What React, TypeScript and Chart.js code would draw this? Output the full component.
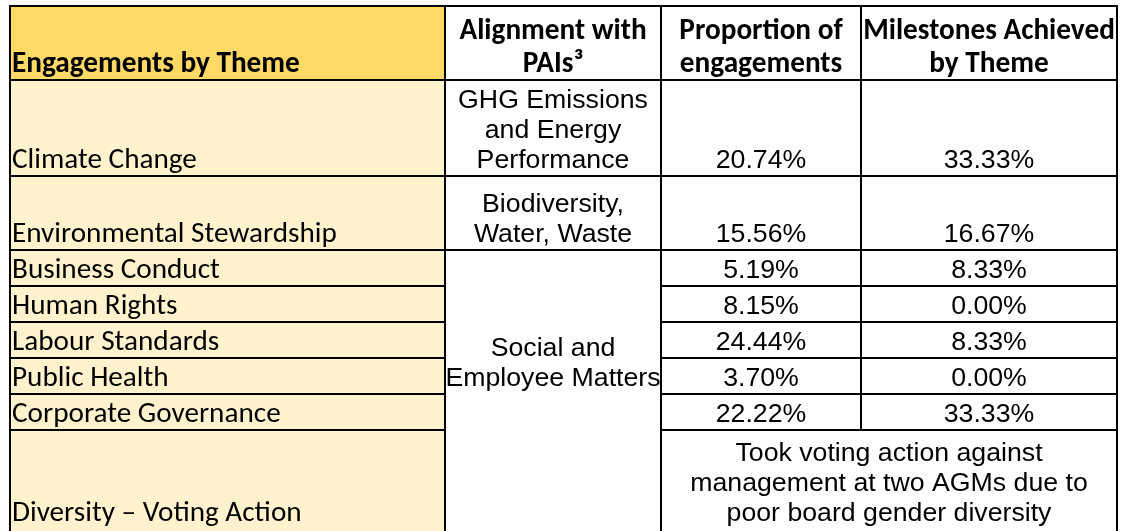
import React, { useEffect, useRef } from "react";
import { Chart, registerables } from "chart.js";

Chart.register(...registerables);

// ---------- data ----------
const headerTheme = "Engagements by Theme";
const headerAlignment = ["Alignment with", "PAIs³"];
const headerProportion = ["Proportion of", "engagements"];
const headerMilestones = ["Milestones Achieved", "by Theme"];

const themes = [
  "Climate Change",
  "Environmental Stewardship",
  "Business Conduct",
  "Human Rights",
  "Labour Standards",
  "Public Health",
  "Corporate Governance",
  "Diversity – Voting Action",
];

const alignClimate = ["GHG Emissions", "and Energy", "Performance"];
const alignEnvironment = ["Biodiversity,", "Water, Waste"];
const alignSocial = ["Social and", "Employee Matters"];

const proportions = [20.74, 15.56, 5.19, 8.15, 24.44, 3.7, 22.22];
const milestones = [33.33, 16.67, 8.33, 0.0, 8.33, 0.0, 33.33];

const votingNote = [
  "Took voting action against",
  "management at two AGMs due to",
  "poor board gender diversity",
];

// ---------- layout / style ----------
const W = 1133;
const H = 531;
const COLS = [10, 445, 661, 861, 1117];
const ROWS = [6, 80, 176, 250, 286, 322, 358, 394, 430, 529];
const GOLD = "#FFD966";
const CREAM = "#FFF2CC";
const CAL = "Calibri, Carlito, Lato, sans-serif";
const ARN = "Arial, 'Liberation Sans', sans-serif";
const ARN_SIZE = 26.7;

function fitSize(ctx: CanvasRenderingContext2D, weight: string, fam: string, text: string, target: number) {
  ctx.font = `${weight} 100px ${fam}`;
  return (100 * target) / ctx.measureText(text).width;
}

function drawTable(chart: any) {
  const ctx: CanvasRenderingContext2D = chart.ctx;
  const xs = chart.scales.x;
  const ys = chart.scales.y;
  const X = (v: number) => xs.getPixelForValue(v);
  const Y = (v: number) => ys.getPixelForValue(v);

  const calReg = fitSize(ctx, "400", CAL, "Climate Change", 185);
  const calBold = fitSize(ctx, "700", CAL, "Engagements by Theme", 288);
  const arnLH = 30;
  const hdrLH = 33;
  const pad = 8.5;

  ctx.save();
  ctx.fillStyle = "#ffffff";
  ctx.fillRect(0, 0, W, H);

  // backgrounds
  ctx.fillStyle = GOLD;
  ctx.fillRect(X(COLS[0]), Y(ROWS[0]), X(COLS[1]) - X(COLS[0]), Y(ROWS[1]) - Y(ROWS[0]));
  ctx.fillStyle = CREAM;
  ctx.fillRect(X(COLS[0]), Y(ROWS[1]), X(COLS[1]) - X(COLS[0]), Y(H) - Y(ROWS[1]) + 2);

  const txt = (s: string, x: number, y: number, font: string, align: CanvasTextAlign) => {
    ctx.save();
    ctx.font = font;
    ctx.fillStyle = "#000";
    ctx.textAlign = align;
    ctx.textBaseline = "alphabetic";
    ctx.fillText(s, x, y);
    ctx.restore();
  };
  const cx = (c: number) => (X(COLS[c]) + X(COLS[c + 1])) / 2;
  const base = (r: number) => Y(ROWS[r + 1]) - pad;

  // header
  const fb = `700 ${calBold}px ${CAL}`;
  txt(headerTheme, X(COLS[0]) + 2, base(0), fb, "left");
  [headerAlignment, headerProportion, headerMilestones].forEach((lines, i) => {
    lines.forEach((l, j) => txt(l, cx(i + 1), base(0) - (lines.length - 1 - j) * hdrLH, fb, "center"));
  });

  // themes column
  const fr = `400 ${calReg}px ${CAL}`;
  themes.forEach((t, i) => txt(t, X(COLS[0]) + 2, base(i + 1), fr, "left"));

  // alignment column
  const fa = `400 ${ARN_SIZE}px ${ARN}`;
  alignClimate.forEach((l, j) => txt(l, cx(1), base(1) - (alignClimate.length - 1 - j) * arnLH, fa, "center"));
  alignEnvironment.forEach((l, j) => txt(l, cx(1), base(2) - (alignEnvironment.length - 1 - j) * arnLH, fa, "center"));
  alignSocial.forEach((l, j) => txt(l, cx(1), base(6) - (alignSocial.length - 1 - j) * arnLH, fa, "center"));

  // values
  proportions.forEach((v, i) => txt(v.toFixed(2) + "%", cx(2), base(i + 1), fa, "center"));
  milestones.forEach((v, i) => txt(v.toFixed(2) + "%", cx(3), base(i + 1), fa, "center"));
  const mid = (X(COLS[2]) + X(COLS[4])) / 2;
  votingNote.forEach((l, j) => txt(l, mid, base(8) - (votingNote.length - 1 - j) * arnLH, fa, "center"));

  // lines
  ctx.strokeStyle = "#000";
  ctx.lineWidth = 2;
  const hl = (y: number, x0: number, x1: number) => {
    ctx.beginPath();
    ctx.moveTo(X(x0) - 1, Y(y));
    ctx.lineTo(X(x1) + 1, Y(y));
    ctx.stroke();
  };
  const vl = (x: number, y0: number, y1: number) => {
    ctx.beginPath();
    ctx.moveTo(X(x), Y(y0) - 1);
    ctx.lineTo(X(x), Y(y1) + 1);
    ctx.stroke();
  };
  // col1 rows
  ROWS.slice(0, 9).forEach((r) => hl(r, COLS[0], COLS[1]));
  // col2
  [0, 1, 2, 3].forEach((i) => hl(ROWS[i], COLS[1], COLS[2]));
  // col3-4
  ROWS.slice(0, 9).forEach((r) => hl(r, COLS[2], COLS[4]));
  // verticals
  vl(COLS[0], ROWS[0], H + 2);
  vl(COLS[1], ROWS[0], H + 2);
  vl(COLS[2], ROWS[0], H + 2);
  vl(COLS[3], ROWS[0], ROWS[8]);
  vl(COLS[4], ROWS[0], H + 2);
  ctx.restore();
}

export default function App() {
  const ref = useRef<HTMLCanvasElement>(null);
  useEffect(() => {
    document.body.style.margin = "0";
    const canvas = ref.current!;
    const tablePlugin = { id: "tableCells", afterDraw: (chart: any) => drawTable(chart) };
    const chart = new Chart(canvas, {
      type: "scatter",
      data: { datasets: [{ data: [] }] },
      options: {
        responsive: false,
        animation: false,
        layout: { padding: 0 },
        plugins: { legend: { display: false }, tooltip: { enabled: false } },
        scales: {
          x: { type: "linear", min: 0, max: W, display: false },
          y: { type: "linear", min: 0, max: H, reverse: true, display: false },
        },
      },
      plugins: [tablePlugin],
    });
    return () => chart.destroy();
  }, []);
  return <canvas ref={ref} width={W} height={H} style={{ display: "block" }} />;
}
